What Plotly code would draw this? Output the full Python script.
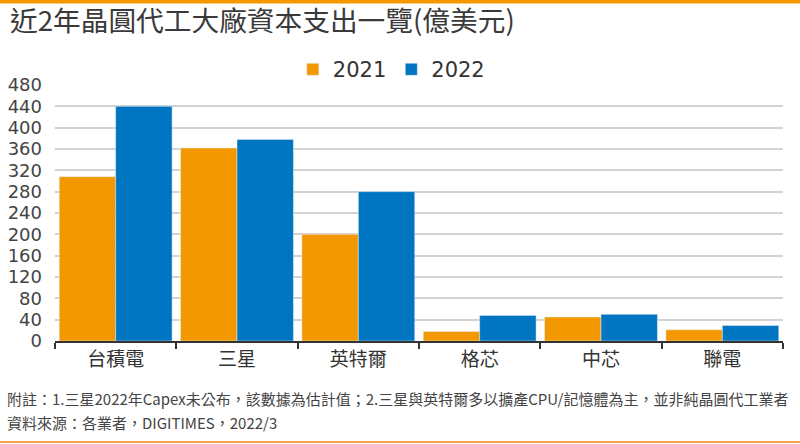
import plotly.graph_objects as go

COMPANIES = ['台積電', '三星', '英特爾', '格芯', '中芯', '聯電']
CAPEX_2021 = [308, 362, 200, 18, 45, 21]
CAPEX_2022 = [440, 378, 280, 48, 50, 29]
Y_TICKS = list(range(0, 481, 40))

ORANGE = '#F39800'
BLUE = '#0075C1'
CJK = 'Noto Sans CJK TC'

fig = go.Figure()
fig.add_trace(go.Bar(x=COMPANIES, y=CAPEX_2021, name='2021', marker_color=ORANGE))
fig.add_trace(go.Bar(x=COMPANIES, y=CAPEX_2022, name='2022', marker_color=BLUE))

fig.update_layout(
    width=800, height=444,
    margin=dict(l=55, r=17, t=85, b=103, autoexpand=False),
    paper_bgcolor='white', plot_bgcolor='white',
    barmode='group', bargap=0.07, bargroupgap=0,
    font=dict(family=CJK, color='#333'),
    title=dict(
        text='近2年晶圓代工大廠資本支出一覽(億美元)',
        font=dict(family=CJK, size=27.7, color='#3a3a3a'),
        x=0.0125, xref='container', xanchor='left',
        y=0.952, yref='container', yanchor='middle',
    ),
    legend=dict(
        orientation='h', x=0.462, xanchor='center', y=1.06, yanchor='middle',
        font=dict(family='DejaVu Sans', size=21, color='#333'),
        itemwidth=30, traceorder='normal',
    ),
    showlegend=True,
)

fig.update_yaxes(
    range=[0, 480], tickvals=Y_TICKS, showline=False, zeroline=False,
    showgrid=True, gridcolor='#d3d3d3', gridwidth=1.5,
    tickfont=dict(family='DejaVu Sans', size=18, color='#444'),
    ticklabelstandoff=12, automargin=False,
)
fig.update_xaxes(
    showline=True, linecolor='#333', linewidth=2,
    ticks='outside', tickson='boundaries', ticklen=6, tickcolor='#333', tickwidth=2,
    tickfont=dict(family=CJK, size=19, color='#333'), automargin=False,
)

# orange rules at the top and bottom of the card
fig.add_shape(type='line', xref='paper', yref='paper',
              x0=-55 / 728, x1=1 + 17 / 728, y0=1.325, y1=1.325,
              line=dict(color=ORANGE, width=3.5))
fig.add_shape(type='line', xref='paper', yref='paper',
              x0=-55 / 728, x1=1 + 17 / 728, y0=-0.395, y1=-0.395,
              line=dict(color='#F5A04A', width=2))

notes = [
    '附註：1.三星2022年Capex未公布，該數據為估計值；2.三星與英特爾多以擴產CPU/記憶體為主，並非純晶圓代工業者',
    '資料來源：各業者，DIGITIMES，2022/3',
]
for i, line in enumerate(notes):
    fig.add_annotation(
        text=line, xref='paper', yref='paper',
        x=-50 / 728, y=(341 - 398 - 24 * i) / 256,
        xanchor='left', yanchor='middle', showarrow=False,
        font=dict(family=CJK, size=15, color='#444'),
    )

# the page's default body margin would shift the 800x444 figure
fig.write_html('out.html', config={'displayModeBar': False},
               post_script="document.body.style.margin = '0';")
